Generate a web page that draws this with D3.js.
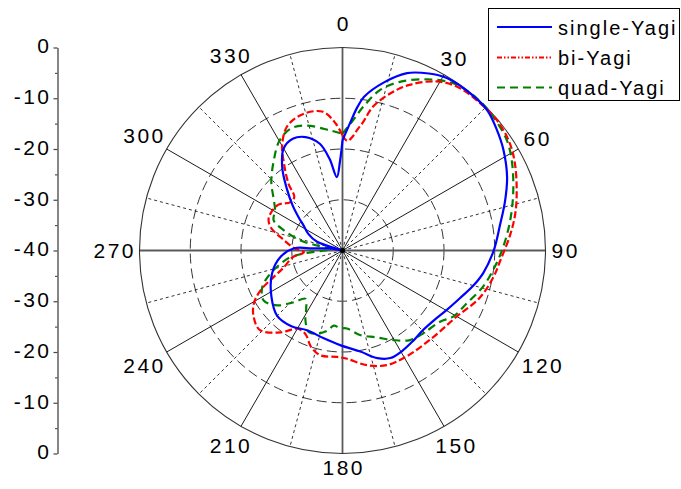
<!DOCTYPE html>
<html>
<head>
<meta charset="utf-8">
<script src="https://cdnjs.cloudflare.com/ajax/libs/d3/7.8.5/d3.min.js"></script>
<style>
  body { margin: 0; background: #fff; }
  svg { display: block; font-family: "Liberation Sans", Arial, sans-serif; }
</style>
</head>
<body>
<div id="chart"></div>
<script>
// readings in dB, angle clockwise from top
var singleAngle = [0, 3.5, 6, 8, 14, 20, 26, 31, 39, 46, 52, 58, 66, 73, 81, 90, 99, 105, 112, 120, 127, 135, 142, 149, 156, 162, 170, 181, 192, 204, 214, 225, 237, 252, 264, 272.6, 274, 276, 281, 285, 289, 296, 303, 307, 312, 318, 324, 330, 336, 342, 348, 352, 355.6, 358.5, 360];
var singleDb = [-18.3, -14.7, -11.5, -9.4, -5.8, -2.8, -1.2, -0.3, -0.1, -0.3, -1.4, -2.6, -4.5, -6.5, -8.6, -10.2, -11.9, -13.3, -15, -16.4, -17.3, -17.7, -17.4, -17, -16.8, -17.7, -19.8, -21.3, -22.3, -22.8, -22, -21.8, -23.3, -25.4, -27.7, -30.5, -34, -36, -38, -40, -34.7, -32.5, -30.8, -29.2, -26.8, -23.6, -19.8, -16.8, -15.9, -16.5, -18.5, -21.8, -25.5, -22.2, -18.3];

var biAngle = [0, 2.5, 5, 7, 9, 12, 17, 22, 29, 35, 42, 50, 57, 63, 71, 78, 85, 94, 100, 109, 120, 134, 149, 159, 168, 178, 183, 192, 198, 204, 210, 217, 226, 233, 239, 244, 249, 254, 262, 267.5, 272, 280, 288, 294, 305, 313, 318, 321, 326, 330, 336, 344, 352, 357, 360];
var biDb = [-17.3, -18.4, -17.5, -16, -14.5, -11, -7.6, -4.8, -1.9, -0.6, -0.3, -0.2, -0.8, -1.9, -3.7, -5.2, -6.9, -8.9, -9.8, -11.4, -14, -15.3, -15.6, -15.8, -16.9, -18.7, -19, -18.9, -20, -22, -22.2, -19.8, -17.4, -18.1, -19.6, -22, -25.5, -28, -30, -32.4, -30.7, -28.3, -25.1, -24.1, -24.4, -26, -25.8, -23.1, -19.4, -16.2, -13.2, -12, -12.4, -15, -17.3];

var quadAngle = [0, 4.7, 8.2, 13.2, 18.8, 26.2, 33.5, 41.4, 48.4, 56.1, 61.9, 70.5, 79.7, 88.6, 96, 104.4, 113, 120.9, 126.1, 135.7, 143, 150.4, 158.5, 168.3, 176.6, 181.8, 186.6, 190.8, 196.9, 202.4, 207.9, 212, 217.5, 223.3, 229.9, 237.6, 245.4, 251.3, 257.9, 262.7, 266, 270, 276, 281, 283.4, 289, 293.6, 301, 307, 314, 322.6, 330, 337, 344, 354, 360];
var quadDb = [-17, -14.2, -11.4, -7.5, -4.9, -2.4, -0.5, 0, -0.3, -1, -2.2, -4.3, -6.4, -8.3, -9.8, -11.4, -13.4, -14.6, -16.2, -17.2, -17.9, -19.7, -21.6, -23, -24.6, -24.7, -25.1, -23.9, -22.9, -22.6, -24.4, -26.5, -28, -26, -23.2, -21.6, -22.6, -24.7, -27.5, -29.7, -33, -36.5, -38, -35, -31.5, -27.8, -25.2, -24.5, -23, -20.5, -17.7, -15.1, -13.9, -14.4, -16.2, -17];

var seriesNames = ["single-Yagi", "bi-Yagi", "quad-Yagi"];
var angleTicks = [0, 30, 60, 90, 120, 150, 180, 210, 240, 270, 300, 330];
var ringTicks = [-30, -20, -10];
var axisMajor = [-40, -30, -20, -10, 0];
var axisMinor = [-35, -25, -15, -5];

var width = 681, height = 489;
var cx = 342.5, cy = 250.5, R = 203;

var svg = d3.select("#chart").append("svg")
    .attr("width", width)
    .attr("height", height);

var r = d3.scaleLinear().domain([-40, 0]).range([0, R]).clamp(true);
var rad = function (a) { return a * Math.PI / 180; };

var polar = svg.append("g").attr("transform", "translate(" + cx + "," + cy + ")");

// rings
polar.append("g").selectAll("circle")
    .data(ringTicks)
    .join("circle")
    .attr("r", function (d) { return r(d); })
    .attr("fill", "none")
    .attr("stroke", "#000")
    .attr("stroke-width", 0.8)
    .attr("stroke-dasharray", "10,5");

// spokes: solid every 30, dotted in between
var spokes = d3.range(0, 360, 15);
polar.append("g").selectAll("line")
    .data(spokes.filter(function (a) { return a % 90 !== 0; }))
    .join("line")
    .attr("x1", 0).attr("y1", 0)
    .attr("x2", function (a) { return R * Math.sin(rad(a)); })
    .attr("y2", function (a) { return -R * Math.cos(rad(a)); })
    .attr("stroke", "#000")
    .attr("stroke-width", function (a) { return a % 30 === 0 ? 0.9 : 0.8; })
    .attr("stroke-dasharray", function (a) { return a % 30 === 0 ? null : "3,3"; });

// main cross
polar.append("g").selectAll("line")
    .data([0, 90])
    .join("line")
    .attr("x1", function (a) { return -R * Math.sin(rad(a)); })
    .attr("y1", function (a) { return R * Math.cos(rad(a)); })
    .attr("x2", function (a) { return R * Math.sin(rad(a)); })
    .attr("y2", function (a) { return -R * Math.cos(rad(a)); })
    .attr("stroke", "#5a5a5a")
    .attr("stroke-width", 1.8);

polar.append("circle")
    .attr("r", R)
    .attr("fill", "none")
    .attr("stroke", "#333")
    .attr("stroke-width", 1.1);

// angle labels
var labels = polar.append("g")
    .attr("font-size", 21)
    .attr("letter-spacing", 2.5)
    .attr("fill", "#000");

angleTicks.forEach(function (a) {
    var t = labels.append("text").text(a).attr("text-anchor", "middle");
    var w = t.node().getBBox().width - 2.5;
    var ux = Math.sin(rad(a)), uy = -Math.cos(rad(a));
    var ext = w / 2 * Math.abs(ux) + 7.5 * Math.abs(uy);
    var dist = R + 6 + ext + (a === 0 ? 11 : 0);
    t.attr("x", ux * dist + 1.25).attr("y", uy * dist + 7.5);
});

// curves
var line = d3.lineRadial()
    .angle(function (d) { return rad(d[0]); })
    .radius(function (d) { return r(d[1]); })
    .curve(d3.curveCatmullRom.alpha(0.5));

var series = [
    { name: seriesNames[2], angle: quadAngle, db: quadDb, color: "#008000", dash: "8,5", legendDash: "8,5" },
    { name: seriesNames[1], angle: biAngle, db: biDb, color: "#ff0000", dash: "7,3", legendDash: "5,2,1.5,2,1.5,2" },
    { name: seriesNames[0], angle: singleAngle, db: singleDb, color: "#0000ff", dash: null, legendDash: null }
];

polar.append("g").selectAll("path")
    .data(series)
    .join("path")
    .attr("d", function (s) { return line(d3.zip(s.angle, s.db)); })
    .attr("fill", "none")
    .attr("stroke", function (s) { return s.color; })
    .attr("stroke-width", 2.2)
    .attr("stroke-dasharray", function (s) { return s.dash; });

polar.append("circle").attr("r", 2.5).attr("fill", "#000");

// left radial axis
var yTop = d3.scaleLinear().domain([-40, 0]).range([cy, cy - R]);
var yBot = d3.scaleLinear().domain([-40, 0]).range([cy, cy + R]);

var axisG = svg.append("g").attr("transform", "translate(57.5,0)");

[yTop, yBot].forEach(function (sc, i) {
    var major = axisG.append("g")
        .call(d3.axisLeft(sc)
            .tickValues(i === 0 ? axisMajor : axisMajor.slice(1))
            .tickSize(4)
            .tickSizeOuter(0)
            .tickPadding(2)
            .tickFormat(function (d) { return String(d); }));
    major.select(".domain").attr("stroke", "#444").attr("stroke-width", 1.3);
    major.selectAll(".tick line").attr("stroke", "#444").attr("stroke-width", 1.2);
    major.selectAll(".tick text")
        .attr("font-size", 21)
        .attr("font-family", "'Liberation Sans', Arial, sans-serif")
        .attr("letter-spacing", 2.5)
        .attr("fill", "#000")
        .attr("dy", "0.25em");

    var minor = axisG.append("g")
        .call(d3.axisLeft(sc).tickValues(axisMinor).tickSize(2.5).tickSizeOuter(0).tickFormat(""));
    minor.select(".domain").remove();
    minor.selectAll(".tick line").attr("stroke", "#444").attr("stroke-width", 1.1);
});

// legend
var legend = svg.append("g");
legend.append("rect")
    .attr("x", 488.5).attr("y", 8.5)
    .attr("width", 191).attr("height", 92)
    .attr("fill", "#fff")
    .attr("stroke", "#000")
    .attr("stroke-width", 1);

var legendRows = [series[2], series[1], series[0]];
var rowY = [27, 57.5, 87.5];

legendRows.forEach(function (s, i) {
    legend.append("line")
        .attr("x1", 497).attr("x2", 552)
        .attr("y1", rowY[i]).attr("y2", rowY[i])
        .attr("stroke", s.color)
        .attr("stroke-width", 2.2)
        .attr("stroke-dasharray", s.legendDash);
    legend.append("text")
        .attr("x", 558).attr("y", rowY[i] + 7.5)
        .attr("font-size", 20)
        .attr("letter-spacing", 2)
        .text(s.name);
});
</script>
</body>
</html>
